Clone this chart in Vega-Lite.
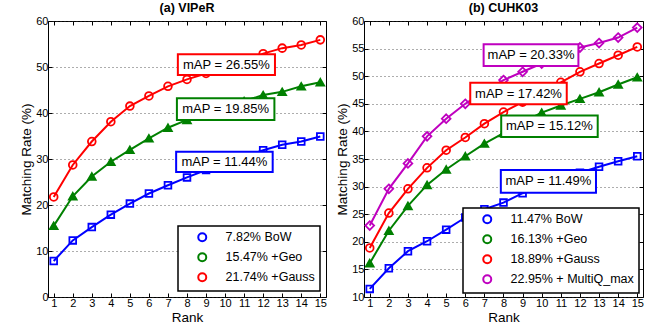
{
 "$schema": "https://vega.github.io/schema/vega-lite/v6.json",
 "background": "white",
 "padding": {"left": 19, "top": 1, "right": 5, "bottom": 0},
 "bounds": "flush",
 "spacing": 38,
 "resolve": {"scale": {"stroke": "independent"}, "legend": {"stroke": "independent"}},
 "config": {
  "font": "Liberation Sans",
  "view": {"stroke": "black", "strokeWidth": 1},
  "axis": {"labelFont": "Liberation Sans", "labelFontSize": 11, "labelColor": "black", "titleFont": "Liberation Sans", "titleFontSize": 13.5, "titleFontWeight": "normal", "titleColor": "black", "domain": false, "tickColor": "black", "tickSize": -4, "labelPadding": 4, "grid": false, "titlePadding": 2, "gridDash": [1, 3], "gridColor": "#333333", "gridOpacity": 0.8},
  "legend": {"labelFont": "Liberation Sans", "labelFontSize": 12.5, "labelColor": "black", "labelLimit": 0, "strokeColor": "black", "strokeWidth": 1.5, "fillColor": "white", "padding": 5, "rowPadding": 3, "symbolSize": 64, "symbolOffset": 13, "labelOffset": 17, "symbolStrokeWidth": 2, "cornerRadius": 0, "title": null},
  "title": {"font": "Liberation Sans", "fontSize": 12.5, "fontWeight": "bold", "color": "black", "offset": 1}
 },
 "datasets": {
  "viper": [
   {"series": " 7.82% BoW", "rank": 1, "rate": 7.82}, {"series": " 7.82% BoW", "rank": 2, "rate": 12.3}, {"series": " 7.82% BoW", "rank": 3, "rate": 15.2}, {"series": " 7.82% BoW", "rank": 4, "rate": 17.9}, {"series": " 7.82% BoW", "rank": 5, "rate": 20.3}, {"series": " 7.82% BoW", "rank": 6, "rate": 22.5}, {"series": " 7.82% BoW", "rank": 7, "rate": 24.3}, {"series": " 7.82% BoW", "rank": 8, "rate": 26.0}, {"series": " 7.82% BoW", "rank": 9, "rate": 27.6}, {"series": " 7.82% BoW", "rank": 10, "rate": 29.0}, {"series": " 7.82% BoW", "rank": 11, "rate": 30.5}, {"series": " 7.82% BoW", "rank": 12, "rate": 31.9}, {"series": " 7.82% BoW", "rank": 13, "rate": 33.1}, {"series": " 7.82% BoW", "rank": 14, "rate": 33.8}, {"series": " 7.82% BoW", "rank": 15, "rate": 34.9},
   {"series": "15.47% +Geo", "rank": 1, "rate": 15.47}, {"series": "15.47% +Geo", "rank": 2, "rate": 21.9}, {"series": "15.47% +Geo", "rank": 3, "rate": 26.2}, {"series": "15.47% +Geo", "rank": 4, "rate": 29.4}, {"series": "15.47% +Geo", "rank": 5, "rate": 32.0}, {"series": "15.47% +Geo", "rank": 6, "rate": 34.5}, {"series": "15.47% +Geo", "rank": 7, "rate": 36.8}, {"series": "15.47% +Geo", "rank": 8, "rate": 38.5}, {"series": "15.47% +Geo", "rank": 9, "rate": 40.0}, {"series": "15.47% +Geo", "rank": 10, "rate": 41.3}, {"series": "15.47% +Geo", "rank": 11, "rate": 42.6}, {"series": "15.47% +Geo", "rank": 12, "rate": 43.9}, {"series": "15.47% +Geo", "rank": 13, "rate": 44.6}, {"series": "15.47% +Geo", "rank": 14, "rate": 45.8}, {"series": "15.47% +Geo", "rank": 15, "rate": 46.7},
   {"series": "21.74% +Gauss", "rank": 1, "rate": 21.74}, {"series": "21.74% +Gauss", "rank": 2, "rate": 28.7}, {"series": "21.74% +Gauss", "rank": 3, "rate": 33.8}, {"series": "21.74% +Gauss", "rank": 4, "rate": 38.1}, {"series": "21.74% +Gauss", "rank": 5, "rate": 41.5}, {"series": "21.74% +Gauss", "rank": 6, "rate": 43.7}, {"series": "21.74% +Gauss", "rank": 7, "rate": 45.8}, {"series": "21.74% +Gauss", "rank": 8, "rate": 47.3}, {"series": "21.74% +Gauss", "rank": 9, "rate": 48.6}, {"series": "21.74% +Gauss", "rank": 10, "rate": 49.8}, {"series": "21.74% +Gauss", "rank": 11, "rate": 51.0}, {"series": "21.74% +Gauss", "rank": 12, "rate": 52.9}, {"series": "21.74% +Gauss", "rank": 13, "rate": 54.1}, {"series": "21.74% +Gauss", "rank": 14, "rate": 54.8}, {"series": "21.74% +Gauss", "rank": 15, "rate": 55.9}
  ],
  "viperAnn": [
   {"label": "mAP = 26.55%", "series": "21.74% +Gauss", "x1": 7.52, "x2": 12.62, "y1": 52.76, "y2": 48.26},
   {"label": "mAP = 19.85%", "series": "15.47% +Geo", "x1": 7.47, "x2": 12.59, "y1": 43.2, "y2": 38.5},
   {"label": "mAP = 11.44%", "series": " 7.82% BoW", "x1": 7.43, "x2": 12.5, "y1": 31.6, "y2": 27.2}
  ],
  "cuhk": [
   {"series": "11.47% BoW", "rank": 1, "rate": 11.47}, {"series": "11.47% BoW", "rank": 2, "rate": 15.2}, {"series": "11.47% BoW", "rank": 3, "rate": 18.3}, {"series": "11.47% BoW", "rank": 4, "rate": 20.1}, {"series": "11.47% BoW", "rank": 5, "rate": 22.2}, {"series": "11.47% BoW", "rank": 6, "rate": 24.4}, {"series": "11.47% BoW", "rank": 7, "rate": 25.9}, {"series": "11.47% BoW", "rank": 8, "rate": 27.1}, {"series": "11.47% BoW", "rank": 9, "rate": 28.8}, {"series": "11.47% BoW", "rank": 10, "rate": 30.0}, {"series": "11.47% BoW", "rank": 11, "rate": 31.3}, {"series": "11.47% BoW", "rank": 12, "rate": 32.5}, {"series": "11.47% BoW", "rank": 13, "rate": 33.6}, {"series": "11.47% BoW", "rank": 14, "rate": 34.6}, {"series": "11.47% BoW", "rank": 15, "rate": 35.5},
   {"series": "16.13% +Geo", "rank": 1, "rate": 16.13}, {"series": "16.13% +Geo", "rank": 2, "rate": 22.0}, {"series": "16.13% +Geo", "rank": 3, "rate": 26.5}, {"series": "16.13% +Geo", "rank": 4, "rate": 30.3}, {"series": "16.13% +Geo", "rank": 5, "rate": 33.1}, {"series": "16.13% +Geo", "rank": 6, "rate": 35.5}, {"series": "16.13% +Geo", "rank": 7, "rate": 37.8}, {"series": "16.13% +Geo", "rank": 8, "rate": 39.7}, {"series": "16.13% +Geo", "rank": 9, "rate": 41.7}, {"series": "16.13% +Geo", "rank": 10, "rate": 43.4}, {"series": "16.13% +Geo", "rank": 11, "rate": 44.7}, {"series": "16.13% +Geo", "rank": 12, "rate": 45.9}, {"series": "16.13% +Geo", "rank": 13, "rate": 47.1}, {"series": "16.13% +Geo", "rank": 14, "rate": 48.5}, {"series": "16.13% +Geo", "rank": 15, "rate": 49.8},
   {"series": "18.89% +Gauss", "rank": 1, "rate": 18.89}, {"series": "18.89% +Gauss", "rank": 2, "rate": 25.2}, {"series": "18.89% +Gauss", "rank": 3, "rate": 29.6}, {"series": "18.89% +Gauss", "rank": 4, "rate": 33.4}, {"series": "18.89% +Gauss", "rank": 5, "rate": 36.6}, {"series": "18.89% +Gauss", "rank": 6, "rate": 38.9}, {"series": "18.89% +Gauss", "rank": 7, "rate": 41.4}, {"series": "18.89% +Gauss", "rank": 8, "rate": 43.5}, {"series": "18.89% +Gauss", "rank": 9, "rate": 45.3}, {"series": "18.89% +Gauss", "rank": 10, "rate": 47.1}, {"series": "18.89% +Gauss", "rank": 11, "rate": 48.9}, {"series": "18.89% +Gauss", "rank": 12, "rate": 50.8}, {"series": "18.89% +Gauss", "rank": 13, "rate": 52.3}, {"series": "18.89% +Gauss", "rank": 14, "rate": 53.8}, {"series": "18.89% +Gauss", "rank": 15, "rate": 55.3},
   {"series": "22.95% + MultiQ_max", "rank": 1, "rate": 22.95}, {"series": "22.95% + MultiQ_max", "rank": 2, "rate": 29.6}, {"series": "22.95% + MultiQ_max", "rank": 3, "rate": 34.2}, {"series": "22.95% + MultiQ_max", "rank": 4, "rate": 39.1}, {"series": "22.95% + MultiQ_max", "rank": 5, "rate": 42.3}, {"series": "22.95% + MultiQ_max", "rank": 6, "rate": 45.0}, {"series": "22.95% + MultiQ_max", "rank": 7, "rate": 47.3}, {"series": "22.95% + MultiQ_max", "rank": 8, "rate": 49.3}, {"series": "22.95% + MultiQ_max", "rank": 9, "rate": 50.8}, {"series": "22.95% + MultiQ_max", "rank": 10, "rate": 52.3}, {"series": "22.95% + MultiQ_max", "rank": 11, "rate": 53.6}, {"series": "22.95% + MultiQ_max", "rank": 12, "rate": 55.2}, {"series": "22.95% + MultiQ_max", "rank": 13, "rate": 56.0}, {"series": "22.95% + MultiQ_max", "rank": 14, "rate": 57.0}, {"series": "22.95% + MultiQ_max", "rank": 15, "rate": 58.8}
  ],
  "cuhkAnn": [
   {"label": "mAP = 20.33%", "series": "22.95% + MultiQ_max", "x1": 6.96, "x2": 11.92, "y1": 55.78, "y2": 51.85},
   {"label": "mAP = 17.42%", "series": "18.89% +Gauss", "x1": 6.26, "x2": 11.31, "y1": 48.8, "y2": 44.9},
   {"label": "mAP = 15.12%", "series": "16.13% +Geo", "x1": 7.88, "x2": 12.93, "y1": 42.9, "y2": 39.0},
   {"label": "mAP = 11.49%", "series": "11.47% BoW", "x1": 7.86, "x2": 12.84, "y1": 33.0, "y2": 28.9}
  ]
 },
 "hconcat": [
  {
   "width": 278, "height": 276,
   "title": "(a) VIPeR",
   "layer": [
    {
     "data": {"name": "viper"},
     "transform": [{"filter": {"field": "series", "equal": " 7.82% BoW"}}],
     "mark": {"type": "point", "shape": "square", "filled": false, "fill": "white", "opacity": 1, "strokeWidth": 1.8, "size": 45},
     "encoding": {
      "x": {"field": "rank", "type": "quantitative", "scale": {"domain": [0.7, 15.3], "nice": false, "zero": false}, "axis": {"orient": "top", "values": [1,2,3,4,5,6,7,8,9,10,11,12,13,14,15], "labels": false, "title": null}},
      "y": {"field": "rate", "type": "quantitative", "scale": {"domain": [0, 60], "nice": false, "zero": false}, "axis": {"orient": "right", "values": [0,10,20,30,40,50,60], "labels": false, "title": null}},
      "stroke": {"field": "series", "type": "nominal", "scale": {"domain": [" 7.82% BoW", "15.47% +Geo", "21.74% +Gauss"], "range": ["#0000ff", "#008000", "#ff0000"]}, "legend": {"orient": "bottom-right", "offset": 6, "title": null, "encode": {"symbols": {"shape": {"value": {"expr": "['M-2.6,0H0M2,0H4.6M0,-1H2V1H0Z','M-2.6,0.1H-0.2M2.2,0.1H4.6M1,-1.15L2.2,0.95H-0.2Z','M-2.6,0H0M2,0H4.6M2,0A1,1,0,1,1,0,0A1,1,0,1,1,2,0Z'][datum.index]"}}, "fill": {"value": {"expr": "['white','#008000','white'][datum.index]"}}, "size": {"value": 64}, "strokeWidth": {"value": 2}, "opacity": {"value": 1}}}}}
     }
    },
    {
     "data": {"name": "viper"},
     "transform": [{"filter": {"field": "series", "equal": "15.47% +Geo"}}],
     "mark": {"type": "point", "shape": "triangle-up", "filled": false, "fill": "#008000", "opacity": 1, "strokeWidth": 1.8, "size": 60},
     "encoding": {
      "x": {"field": "rank", "type": "quantitative", "scale": {"domain": [0.7, 15.3], "nice": false, "zero": false}, "axis": null},
      "y": {"field": "rate", "type": "quantitative", "scale": {"domain": [0, 60], "nice": false, "zero": false}, "axis": null},
      "stroke": {"field": "series", "type": "nominal", "scale": {"domain": [" 7.82% BoW", "15.47% +Geo", "21.74% +Gauss"], "range": ["#0000ff", "#008000", "#ff0000"]}}
     }
    },
    {
     "data": {"name": "viper"},
     "transform": [{"filter": {"field": "series", "equal": "21.74% +Gauss"}}],
     "mark": {"type": "point", "shape": "circle", "filled": false, "fill": "white", "opacity": 1, "strokeWidth": 1.8, "size": 60},
     "encoding": {
      "x": {"field": "rank", "type": "quantitative", "scale": {"domain": [0.7, 15.3], "nice": false, "zero": false}, "axis": null},
      "y": {"field": "rate", "type": "quantitative", "scale": {"domain": [0, 60], "nice": false, "zero": false}, "axis": null},
      "stroke": {"field": "series", "type": "nominal", "scale": {"domain": [" 7.82% BoW", "15.47% +Geo", "21.74% +Gauss"], "range": ["#0000ff", "#008000", "#ff0000"]}}
     }
    },
    {
     "data": {"name": "viper"},
     "mark": {"type": "line", "strokeWidth": 2},
     "encoding": {
      "x": {"field": "rank", "type": "quantitative", "scale": {"domain": [0.7, 15.3], "nice": false, "zero": false}, "axis": {"orient": "bottom", "values": [1,2,3,4,5,6,7,8,9,10,11,12,13,14,15], "title": "Rank"}},
      "y": {"field": "rate", "type": "quantitative", "scale": {"domain": [0, 60], "nice": false, "zero": false}, "axis": {"orient": "left", "values": [0,10,20,30,40,50,60], "title": "Matching Rate (%)", "grid": true}},
      "stroke": {"field": "series", "type": "nominal", "scale": {"domain": [" 7.82% BoW", "15.47% +Geo", "21.74% +Gauss"], "range": ["#0000ff", "#008000", "#ff0000"]}}
     }
    },
    {
     "data": {"name": "viperAnn"},
     "mark": {"type": "rect", "fill": "white", "strokeWidth": 2},
     "encoding": {
      "x": {"field": "x1", "type": "quantitative", "scale": {"domain": [0.7, 15.3], "nice": false, "zero": false}, "axis": null},
      "x2": {"field": "x2"},
      "y": {"field": "y1", "type": "quantitative", "scale": {"domain": [0, 60], "nice": false, "zero": false}, "axis": null},
      "y2": {"field": "y2"},
      "stroke": {"field": "series", "type": "nominal", "scale": {"domain": [" 7.82% BoW", "15.47% +Geo", "21.74% +Gauss"], "range": ["#0000ff", "#008000", "#ff0000"]}}
     }
    },
    {
     "data": {"name": "viperAnn"},
     "transform": [{"calculate": "(datum.x1+datum.x2)/2", "as": "xm"}, {"calculate": "(datum.y1+datum.y2)/2", "as": "ym"}],
     "mark": {"type": "text", "fontSize": 13, "font": "Liberation Sans", "fill": "black", "baseline": "middle", "align": "center"},
     "encoding": {
      "x": {"field": "xm", "type": "quantitative", "scale": {"domain": [0.7, 15.3], "nice": false, "zero": false}, "axis": null},
      "y": {"field": "ym", "type": "quantitative", "scale": {"domain": [0, 60], "nice": false, "zero": false}, "axis": null},
      "text": {"field": "label"}
     }
    }
   ],
   "resolve": {"axis": {"x": "independent", "y": "independent"}}
  },
  {
   "width": 279, "height": 276,
   "title": "(b) CUHK03",
   "layer": [
    {
     "data": {"name": "cuhk"},
     "transform": [{"filter": {"field": "series", "equal": "11.47% BoW"}}],
     "mark": {"type": "point", "shape": "square", "filled": false, "fill": "white", "opacity": 1, "strokeWidth": 1.8, "size": 45},
     "encoding": {
      "x": {"field": "rank", "type": "quantitative", "scale": {"domain": [0.7, 15.3], "nice": false, "zero": false}, "axis": {"orient": "top", "values": [1,2,3,4,5,6,7,8,9,10,11,12,13,14,15], "labels": false, "title": null}},
      "y": {"field": "rate", "type": "quantitative", "scale": {"domain": [10, 60], "nice": false, "zero": false}, "axis": {"orient": "right", "values": [10,15,20,25,30,35,40,45,50,55,60], "labels": false, "title": null}},
      "stroke": {"field": "series", "type": "nominal", "scale": {"domain": ["11.47% BoW", "16.13% +Geo", "18.89% +Gauss", "22.95% + MultiQ_max"], "range": ["#0000ff", "#008000", "#ff0000", "#bf00bf"]}, "legend": {"orient": "bottom-right", "offset": 4, "title": null, "encode": {"symbols": {"shape": {"value": {"expr": "['M-2.6,0H0M2,0H4.6M0,-1H2V1H0Z','M-2.6,0.1H-0.2M2.2,0.1H4.6M1,-1.15L2.2,0.95H-0.2Z','M-2.6,0H0M2,0H4.6M2,0A1,1,0,1,1,0,0A1,1,0,1,1,2,0Z','M-2.6,0H-0.2M2.2,0H4.6M1,-1.2L2.2,0L1,1.2L-0.2,0Z'][datum.index]"}}, "fill": {"value": {"expr": "['white','#008000','white','white'][datum.index]"}}, "size": {"value": 64}, "strokeWidth": {"value": 2}, "opacity": {"value": 1}}}}}
     }
    },
    {
     "data": {"name": "cuhk"},
     "transform": [{"filter": {"field": "series", "equal": "16.13% +Geo"}}],
     "mark": {"type": "point", "shape": "triangle-up", "filled": false, "fill": "#008000", "opacity": 1, "strokeWidth": 1.8, "size": 60},
     "encoding": {
      "x": {"field": "rank", "type": "quantitative", "scale": {"domain": [0.7, 15.3], "nice": false, "zero": false}, "axis": null},
      "y": {"field": "rate", "type": "quantitative", "scale": {"domain": [10, 60], "nice": false, "zero": false}, "axis": null},
      "stroke": {"field": "series", "type": "nominal", "scale": {"domain": ["11.47% BoW", "16.13% +Geo", "18.89% +Gauss", "22.95% + MultiQ_max"], "range": ["#0000ff", "#008000", "#ff0000", "#bf00bf"]}}
     }
    },
    {
     "data": {"name": "cuhk"},
     "transform": [{"filter": {"field": "series", "equal": "18.89% +Gauss"}}],
     "mark": {"type": "point", "shape": "circle", "filled": false, "fill": "white", "opacity": 1, "strokeWidth": 1.8, "size": 60},
     "encoding": {
      "x": {"field": "rank", "type": "quantitative", "scale": {"domain": [0.7, 15.3], "nice": false, "zero": false}, "axis": null},
      "y": {"field": "rate", "type": "quantitative", "scale": {"domain": [10, 60], "nice": false, "zero": false}, "axis": null},
      "stroke": {"field": "series", "type": "nominal", "scale": {"domain": ["11.47% BoW", "16.13% +Geo", "18.89% +Gauss", "22.95% + MultiQ_max"], "range": ["#0000ff", "#008000", "#ff0000", "#bf00bf"]}}
     }
    },
    {
     "data": {"name": "cuhk"},
     "transform": [{"filter": {"field": "series", "equal": "22.95% + MultiQ_max"}}],
     "mark": {"type": "point", "shape": "M0,-1.3L1.3,0L0,1.3L-1.3,0Z", "filled": false, "fill": "white", "opacity": 1, "strokeWidth": 1.8, "size": 45},
     "encoding": {
      "x": {"field": "rank", "type": "quantitative", "scale": {"domain": [0.7, 15.3], "nice": false, "zero": false}, "axis": null},
      "y": {"field": "rate", "type": "quantitative", "scale": {"domain": [10, 60], "nice": false, "zero": false}, "axis": null},
      "stroke": {"field": "series", "type": "nominal", "scale": {"domain": ["11.47% BoW", "16.13% +Geo", "18.89% +Gauss", "22.95% + MultiQ_max"], "range": ["#0000ff", "#008000", "#ff0000", "#bf00bf"]}}
     }
    },
    {
     "data": {"name": "cuhk"},
     "mark": {"type": "line", "strokeWidth": 2},
     "encoding": {
      "x": {"field": "rank", "type": "quantitative", "scale": {"domain": [0.7, 15.3], "nice": false, "zero": false}, "axis": {"orient": "bottom", "values": [1,2,3,4,5,6,7,8,9,10,11,12,13,14,15], "title": "Rank"}},
      "y": {"field": "rate", "type": "quantitative", "scale": {"domain": [10, 60], "nice": false, "zero": false}, "axis": {"orient": "left", "values": [10,15,20,25,30,35,40,45,50,55,60], "title": "Matching Rate (%)", "grid": true}},
      "stroke": {"field": "series", "type": "nominal", "scale": {"domain": ["11.47% BoW", "16.13% +Geo", "18.89% +Gauss", "22.95% + MultiQ_max"], "range": ["#0000ff", "#008000", "#ff0000", "#bf00bf"]}}
     }
    },
    {
     "data": {"name": "cuhkAnn"},
     "mark": {"type": "rect", "fill": "white", "strokeWidth": 2},
     "encoding": {
      "x": {"field": "x1", "type": "quantitative", "scale": {"domain": [0.7, 15.3], "nice": false, "zero": false}, "axis": null},
      "x2": {"field": "x2"},
      "y": {"field": "y1", "type": "quantitative", "scale": {"domain": [10, 60], "nice": false, "zero": false}, "axis": null},
      "y2": {"field": "y2"},
      "stroke": {"field": "series", "type": "nominal", "scale": {"domain": ["11.47% BoW", "16.13% +Geo", "18.89% +Gauss", "22.95% + MultiQ_max"], "range": ["#0000ff", "#008000", "#ff0000", "#bf00bf"]}}
     }
    },
    {
     "data": {"name": "cuhkAnn"},
     "transform": [{"calculate": "(datum.x1+datum.x2)/2", "as": "xm"}, {"calculate": "(datum.y1+datum.y2)/2", "as": "ym"}],
     "mark": {"type": "text", "fontSize": 13, "font": "Liberation Sans", "fill": "black", "baseline": "middle", "align": "center"},
     "encoding": {
      "x": {"field": "xm", "type": "quantitative", "scale": {"domain": [0.7, 15.3], "nice": false, "zero": false}, "axis": null},
      "y": {"field": "ym", "type": "quantitative", "scale": {"domain": [10, 60], "nice": false, "zero": false}, "axis": null},
      "text": {"field": "label"}
     }
    }
   ],
   "resolve": {"axis": {"x": "independent", "y": "independent"}}
  }
 ]
}
